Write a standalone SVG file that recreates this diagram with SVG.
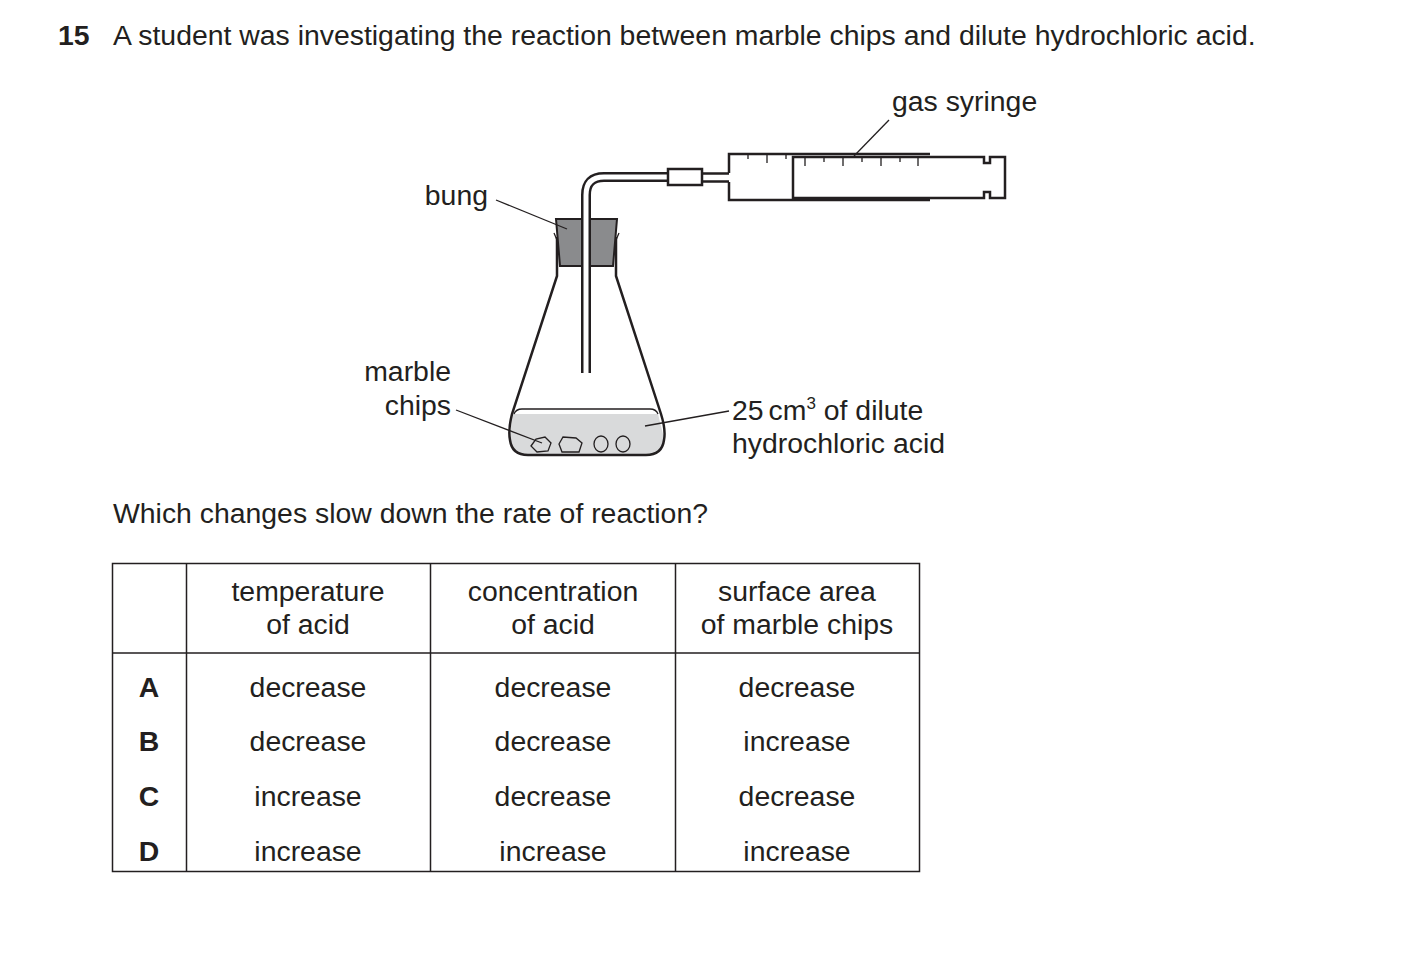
<svg xmlns="http://www.w3.org/2000/svg" width="1403" height="965" viewBox="0 0 1403 965">
<style>
text{font-family:"Liberation Sans",Arial,sans-serif;font-size:28.4px;fill:#231f20}
.c{text-anchor:middle}
.r{text-anchor:end}
.ln{stroke:#231f20;stroke-width:2.5;fill:none}
.th{stroke:#231f20;stroke-width:1.3;fill:none}
.tb{stroke:#231f20;stroke-width:1.5;fill:none}
</style>
<rect width="1403" height="965" fill="#fff"/>
<text x="58" y="45" font-weight="bold" font-size="26">15</text>
<text x="113" y="45">A student was investigating the reaction between marble chips and dilute hydrochloric acid.</text>

<g id="flask">
<path d="M512,414 L658,414 L664,438 Q665,455 648,455 L525,455 Q508,455 510,438 Z" fill="#d9dadb"/>
<path class="ln" d="M557,237 L557,276 L512,414 Q508,430 510,440 Q512,455 528,455 L646,455 Q662,455 664,440 Q666,430 661,414 L616,276 L616,237"/>
<path class="th" d="M514,414 Q516,409 522,409 L650,409 Q656,409 658,414"/>
<path class="th" d="M554,233 L557,240 M619,233 L616,240"/>
</g>
<g id="chips">
<path class="th" d="M531,446 L536,439 L545,437 L551,443 L548,451 L537,452 Z" fill="#fff"/>
<path class="th" d="M559,444 L563,437 L576,438 L582,443 L579,452 L562,452 Z" fill="#fff"/>
<ellipse class="th" cx="601" cy="444" rx="7" ry="8" fill="#fff"/>
<ellipse class="th" cx="623" cy="444" rx="7" ry="8" fill="#fff"/>
</g>
<g id="bung">
<path d="M556,219 L617,219 L613,266 L560,266 Z" fill="#8a8b8d" stroke="#231f20" stroke-width="2"/>
</g>
<g id="tube">
<path d="M586,373 L586,195 Q586,177 604,177 L668,177" fill="none" stroke="#231f20" stroke-width="10"/>
<path d="M586,373 L586,195 Q586,177 604,177 L668,177" fill="none" stroke="#fff" stroke-width="5"/>
<rect x="668" y="169" width="34" height="16" fill="#fff" stroke="#231f20" stroke-width="2.5"/>
<rect x="671" y="172" width="28" height="10" fill="#fff" stroke="none"/>
<path class="ln" d="M702,173.5 L729,173.5 M702,181.5 L729,181.5"/>
</g>
<g id="syringe">
<path class="ln" d="M729,173 L729,154 L930,154 M729,182 L729,200 L930,200"/>
<path class="ln" d="M793,157 L984,157 L984,163 L990,163 L990,157 L1005,157 L1005,198 L990,198 L990,192 L984,192 L984,198 L793,198 Z"/>
<path class="th" d="M748,154 v5 M767,154 v9 M786,154 v5 M805,157 v9 M824,157 v5 M843,157 v9 M862,157 v5 M881,157 v9 M900,157 v5 M918,157 v9"/>
</g>
<g id="labels">
<text x="892" y="111">gas syringe</text>
<text class="r" x="488" y="205">bung</text>
<text class="r" x="451" y="381">marble</text>
<text class="r" x="451" y="415">chips</text>
<text x="732" y="420">25<tspan dx="5">cm</tspan><tspan font-size="17" dy="-11">3</tspan><tspan dy="11"> of dilute</tspan></text>
<text x="732" y="453">hydrochloric acid</text>
</g>
<g id="connectors">
<path class="th" d="M854,156 L889,120"/>
<path class="th" d="M496,200 L567,229"/>
<path class="th" d="M456,410 L542,443"/>
<path class="th" d="M645,426 L729,411"/>
</g>

<text x="113" y="523">Which changes slow down the rate of reaction?</text>

<g id="table">
<rect class="tb" x="112.5" y="563.5" width="807" height="308"/>
<path class="tb" d="M186.5,563.5 V871.5 M430.5,563.5 V871.5 M675.5,563.5 V871.5 M112.5,653 H919.5"/>
<text class="c" x="308" y="601">temperature</text>
<text class="c" x="308" y="634">of acid</text>
<text class="c" x="553" y="601">concentration</text>
<text class="c" x="553" y="634">of acid</text>
<text class="c" x="797" y="601">surface area</text>
<text class="c" x="797" y="634">of marble chips</text>
<text class="c" x="149" y="697" font-weight="bold" font-size="26">A</text><text class="c" x="149" y="751" font-weight="bold" font-size="26">B</text><text class="c" x="149" y="806" font-weight="bold" font-size="26">C</text><text class="c" x="149" y="861" font-weight="bold" font-size="26">D</text>
<text class="c" x="308" y="697">decrease</text><text class="c" x="553" y="697">decrease</text><text class="c" x="797" y="697">decrease</text>
<text class="c" x="308" y="751">decrease</text><text class="c" x="553" y="751">decrease</text><text class="c" x="797" y="751">increase</text>
<text class="c" x="308" y="806">increase</text><text class="c" x="553" y="806">decrease</text><text class="c" x="797" y="806">decrease</text>
<text class="c" x="308" y="861">increase</text><text class="c" x="553" y="861">increase</text><text class="c" x="797" y="861">increase</text>
</g>
</svg>
